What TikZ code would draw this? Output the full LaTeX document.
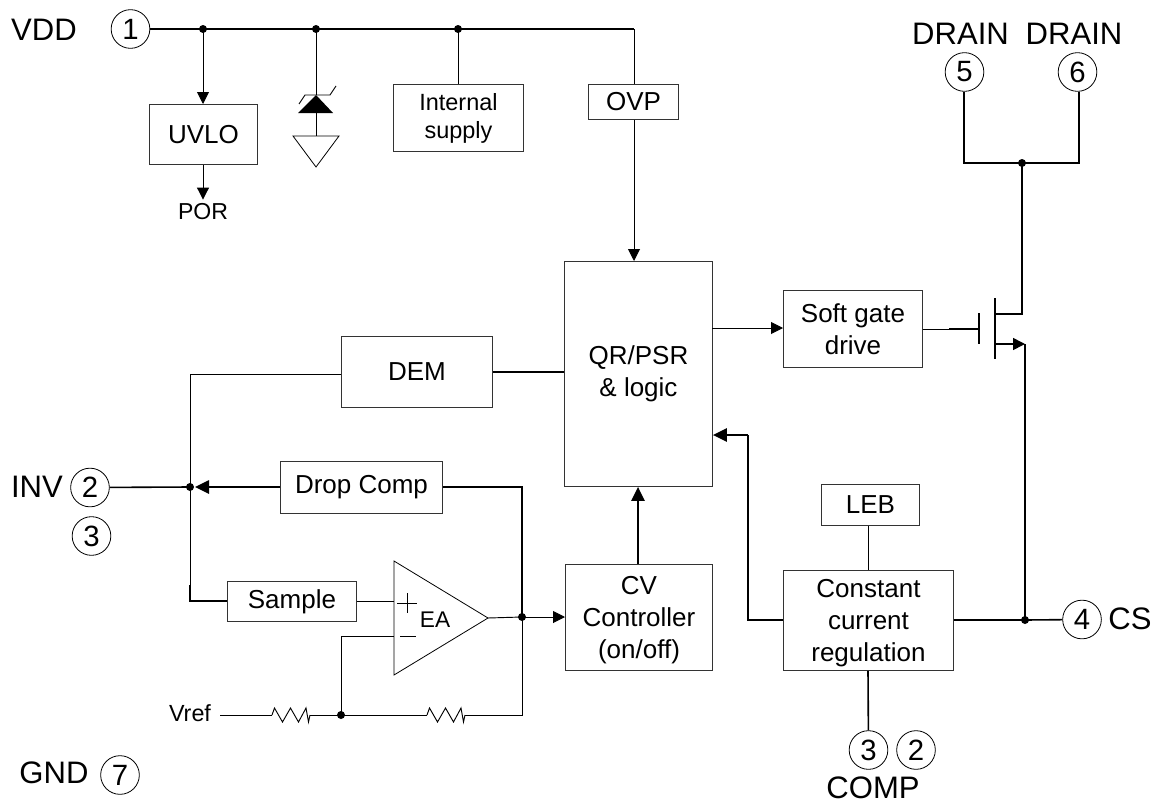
\documentclass[tikz,border=0pt]{standalone}
\usepackage{fontspec}
\setmainfont{Liberation Sans}
\usetikzlibrary{arrows.meta,calc}
\tikzset{
  bx/.style={draw=black!80,line width=0.7pt,inner sep=0pt,align=center,font=\fontsize{19.5}{24}\selectfont,anchor=north west},
  pin/.style={draw=black,circle,line width=0.6pt,minimum size=29pt,inner sep=0pt,font=\fontsize{22}{24}\selectfont},
  lbl/.style={font=\fontsize{23.3}{26}\selectfont,inner sep=0pt},
  w/.style={line width=0.7pt},
  wt/.style={line width=1.2pt},
  dot/.style={circle,fill=black,inner sep=0pt,minimum size=6pt},
  arr/.style={-{Stealth[length=9pt,width=9pt,inset=0pt]}},
  arrt/.style={-{Stealth[length=10.5pt,width=10pt,inset=0pt]}},
}
\newcommand{\resist}[1]{% start coordinate name
  \draw[w] (#1) -- ++(2.5,-7) -- ++(8,14) -- ++(8,-14) -- ++(8,14) -- ++(7.5,-14) -- ++(2.5,14) -- ++(1.5,-7);
}
\begin{document}
\begin{tikzpicture}[x=0.75pt,y=-0.75pt]
\useasboundingbox (0,0) rectangle (1159,803);
% labels
\node[lbl] (vdd) at (44,30) {VDD};
\node[lbl] (dr1) at (960.5,34) {DRAIN};
\node[lbl] (dr2) at (1074,34) {DRAIN};
\node[lbl] (inv) at (37,487) {INV};
\node[lbl] (cs) at (1130,619) {CS};
\node[lbl] (gnd) at (54,773) {GND};
\node[lbl] (comp) at (873,788) {COMP};
% pins
\node[pin] (p1) at (130.5,29) {1};
\node[pin] (p5) at (964.5,72) {5};
\node[pin] (p6) at (1077.5,72) {6};
\node[pin] (p2) at (90,487.5) {2};
\node[pin] (p3) at (91.5,536) {3};
\node[pin] (p4) at (1082,619.5) {4};
\node[pin] (p3b) at (868.5,750) {3};
\node[pin] (p2b) at (916,750) {2};
\node[pin] (p7) at (120,775) {7};
% boxes
\node[bx,minimum width=81pt,minimum height=45pt] (uvlo) at (149,104) {UVLO};
\node[bx,minimum width=97.5pt,minimum height=50.25pt,font=\fontsize{17.6}{21}\selectfont] (sup) at (393,84) {Internal\\supply};
\node[bx,minimum width=67.5pt,minimum height=26.25pt] (ovp) at (588,84) {OVP};
\node[bx,minimum width=111pt,minimum height=168.75pt] (qr) at (564,261) {QR/PSR\\\& logic};
\node[bx,minimum width=104.25pt,minimum height=57.75pt] (sg) at (783,290) {Soft gate\\drive};
\node[bx,minimum width=113.25pt,minimum height=53.25pt] (dem) at (341,336) {DEM};
\node[bx,minimum width=121.5pt,minimum height=39pt] (drop) at (280,461) {\raisebox{-3pt}{Drop Comp}};
\node[bx,minimum width=96.75pt,minimum height=30pt] (samp) at (227,581) {Sample};
\node[bx,minimum width=110.25pt,minimum height=79.5pt] (cv) at (565,564) {\rule{0pt}{17.5pt}CV\\Controller\\(on/off)};
\node[bx,minimum width=73.5pt,minimum height=30.75pt] (leb) at (821,484) {LEB};
\node[bx,minimum width=127.5pt,minimum height=75pt] (cc) at (783,570) {\rule{0pt}{17.5pt}Constant\\current\\regulation};
% top rail
\coordinate (t1) at (203,29);
\coordinate (t2) at (316,29);
\coordinate (t3) at (458,29);
\coordinate (t4) at (634,29);
\node[dot] at (t1) {};
\node[dot] at (t2) {};
\node[dot] at (t3) {};
\draw[wt] (p1) -- (t4);
\draw[w] (t4) -- (ovp.north -| t4);
\draw[w,arr] (t1) -- (uvlo.north -| t1);
\draw[w] (t3) -- (sup.north -| t3);
\node[font=\fontsize{17.3}{20}\selectfont,inner sep=0pt] (por) at (203,212) {POR};
\draw[w,arr,shorten >=3pt] (uvlo.south -| por) -- (por.north);
\draw[w,arr] (ovp.south -| t4) -- (qr.north -| t4);
% zener
\coordinate (z1) at (316,95);
\coordinate (z2) at (316,113);
\coordinate (g1) at (316,136);
\draw[w] (t2) -- (z1);
\fill (z1) -- (298,113) -- (333,113) -- cycle;
\draw[w] (299,104) -- (305,95) -- (330,95) -- (336,86);
\draw[w] (z2) -- (g1);
\draw[line width=0.6pt] (293,136) -- (339,136) -- (316,167) -- cycle;
% drain
\coordinate (dj) at (1022,163);
\coordinate (d5) at (964,163);
\coordinate (d6) at (1079,163);
\coordinate (d5p) at (964,92);
\coordinate (d6p) at (1079,92);
\node[dot] at (dj) {};
\draw[wt] (d5p) -- (d5) -- (d6) -- (d6p);
% mosfet
\coordinate (mg) at (979,329);
\coordinate (mgm) at (949,329);
\coordinate (mc) at (995,314);
\coordinate (mcd) at (1022,314);
\coordinate (ms) at (995,344);
\coordinate (mo) at (1025,344);
\coordinate (csj) at (1025,620);
\draw[wt] (dj) -- (mcd) -- (mc);
\draw[wt] (995,298) -- (995,359);
\draw[wt] (979,313) -- (979,344);
\draw[wt] (mgm) -- (mg);
\draw[w] (sg.east |- mg) -- (mgm);
\draw[wt,-{Stealth[length=9pt,width=9pt,inset=0pt]}] (ms) -- (mo);
\draw[wt] (mo) -- (csj);
\node[dot] at (csj) {};
\draw[wt] (cc.east |- csj) -- (csj);
\draw[wt] (csj) -- (p4);
\coordinate (qs) at (712,328);
\draw[w,arr] (qs) -- (sg.west |- qs);
% LEB, CC
\coordinate (xc) at (868,0);
\draw[w] (leb.south -| xc) -- (cc.north -| xc);
\draw[wt] (cc.south -| xc) -- (p3b);
\coordinate (cca) at (748,620);
\coordinate (ccb) at (748,435);
\draw[wt] (cc.west |- cca) -- (cca) -- (ccb);
\draw[wt,arrt] (ccb) -- (qr.east |- ccb);
% CV to QR
\coordinate (xq) at (638,0);
\draw[wt,arrt] (cv.north -| xq) -- (qr.south -| xq);
% DEM
\coordinate (inj) at (190,487);
\coordinate (dl) at (190,374);
\coordinate (yd) at (0,372);
\coordinate (ah) at (195,487);
\draw[wt] (dem.east |- yd) -- (qr.west |- yd);
\draw[w] (dem.west |- dl) -- (dl) -- (inj);
\draw[wt] (p2) -- (inj);
\node[dot] at (inj) {};
\draw[wt,arrt] (drop.west |- inj) -- (ah);
% Sample
\coordinate (sl) at (190,601);
\coordinate (sm) at (190,585);
\draw[w] (inj) -- (sm);
\draw[wt] (sm) -- (sl) -- (samp.west |- sl);
% EA
\coordinate (e1) at (394,561);
\coordinate (e2) at (394,675);
\coordinate (e3) at (488,618);
\coordinate (ej) at (522,617);
\coordinate (dt) at (522,487);
\coordinate (ep) at (394,601);
\coordinate (en) at (394,636);
\coordinate (rn) at (341,636);
\draw[line width=0.6pt] (e1) -- (e3) -- (e2) -- cycle;
\draw[w] (samp.east |- sl) -- (ep);
\draw[line width=0.5pt] (397,603) -- (417,603) (407,593) -- (407,613);
\draw[line width=0.5pt] (400,636) -- (416,636);
\node[inner sep=0pt,font=\fontsize{17}{20}\selectfont] (ea) at (435,620) {EA};
\draw[w] (e3) -- (ej);
\node[dot] at (ej) {};
\draw[w,arr] (ej) -- (cv.west |- ej);
\draw[wt] (drop.east |- inj) -- (dt) -- (ej);
% Vref
\node[inner sep=0pt,font=\fontsize{17.5}{20}\selectfont] (vref) at (190,713) {Vref};
\coordinate (r0) at (220,715);
\coordinate (r1) at (272,715);
\coordinate (r1e) at (310,715);
\coordinate (rj) at (341,715);
\coordinate (r2) at (427,715);
\coordinate (r2e) at (465,715);
\coordinate (rb) at (522,715);
\draw[w] (r0) -- (r1);
\resist{r1}
\draw[w] (r1e) -- (rj) -- (r2);
\resist{r2}
\draw[w] (r2e) -- (rb) -- (ej);
\node[dot] at (rj) {};
\draw[w] (rj) -- (rn) -- (en);
\end{tikzpicture}
\end{document}
